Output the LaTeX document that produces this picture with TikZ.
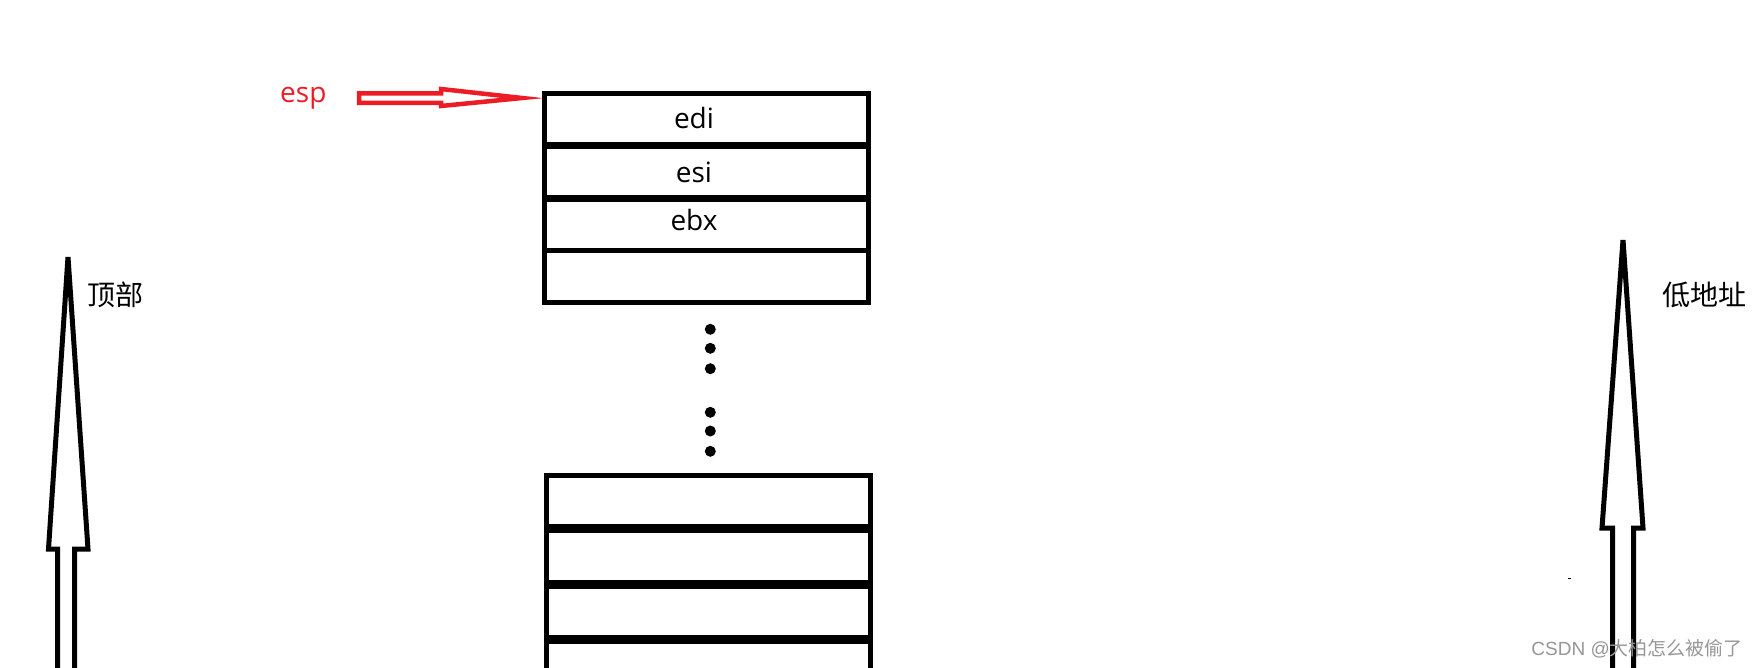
\documentclass[tikz,border=0pt]{standalone}
\usepackage{fontspec}
\setmainfont{Open Sans}
\newfontfamily\cjk{Noto Sans CJK SC}
\newfontfamily\wmfont{Liberation Sans}
\definecolor{espred}{RGB}{237,28,36}
\definecolor{wmgray}{RGB}{150,150,150}
\begin{document}
\begin{tikzpicture}[x=1pt,y=-1pt,
  cell/.style={draw, line width=5pt, minimum width=324pt, minimum height=#1,
    inner sep=0pt, outer sep=0pt, anchor=north west},
  lbl/.style={inner sep=0pt, font=\fontsize{28}{34}\selectfont},
  cjklbl/.style={inner sep=0pt, font=\fontsize{28}{34}\selectfont\cjk},
  hollow/.style={draw, line width=5pt, line join=miter},
  stackdot/.style={fill=black, circle, inner sep=0pt, minimum size=11pt}]
\useasboundingbox (0,0) rectangle (1755,667);
\clip (0,0) rectangle (1755,667);

% top stack block
\node[cell=50.5pt] (c1) at (544.5,93.5) {};
\node[cell=51pt]   (c2) at (544.5,146) {};
\node[cell=51.5pt] (c3) at (544.5,199) {};
\node[cell=52pt]   (c4) at (544.5,250.5) {};
\node[lbl, anchor=base] (tedi) at (694,128) {edi};
\node[lbl, anchor=base] (tesi) at (694,182) {esi};
\node[lbl, anchor=base] (tebx) at (694,230) {ebx};

% dots
\foreach \yy [count=\i] in {329.3,348.3,368.7,412.3,431,451.3}
  \node[stackdot] (d\i) at (710.3,\yy) {};

% bottom stack block
\node[cell=50.5pt] (b1) at (546.5,475.5) {};
\node[cell=52pt]   (b2) at (546.5,530) {};
\node[cell=51.5pt] (b3) at (546.5,586) {};
\node[cell=60pt]   (b4) at (546.5,641.5) {};

% esp label and red hollow arrow
\node[lbl, text=espred, anchor=base west] (esp) at (280,102) {esp};
\draw[espred, line width=4.5pt, line join=miter]
  (359,93.25) -- (441,93.25) -- (441,89) -- (522,98) -- (441,106) -- (441,102.75)
  -- (359,102.75) -- cycle;

% left big arrow
\draw[hollow] (57.5,690) -- (57.5,549) -- (48.5,549) -- (68,257) -- (88,549)
  -- (74.5,549) -- (74.5,690);
\node[cjklbl, anchor=west] (top) at (87,294.5) {顶部};

% right big arrow
\draw[hollow] (1612.5,690) -- (1612.5,528) -- (1602,528) -- (1623,240) -- (1643,528)
  -- (1633.5,528) -- (1633.5,690);
\node[cjklbl, anchor=west] (low) at (1662,295) {低地址};

% small speck
\fill (1567.5,577.5) rectangle (1570.5,579.2);

% watermark
\node[inner sep=0pt, anchor=east, text=wmgray, font=\fontsize{19}{23}\selectfont]
  (wm) at (1743,649) {\wmfont CSDN @\cjk 大柏怎么被偷了};
\end{tikzpicture}
\end{document}
